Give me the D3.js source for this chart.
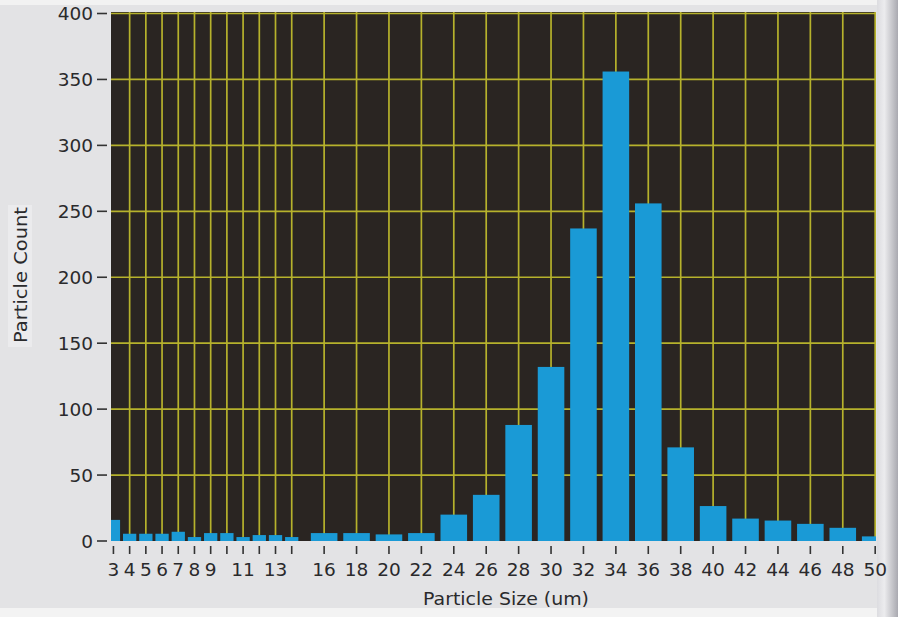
<!DOCTYPE html>
<html><head><meta charset="utf-8">
<script src="https://cdn.jsdelivr.net/npm/d3@7"></script>
<style>
html,body{margin:0;padding:0;background:#e4e4e6;}
svg{display:block;}
text{font-family:"DejaVu Sans",sans-serif;fill:#2a2a2c;}
</style></head>
<body>
<svg id="chart" width="898" height="617"></svg>
<script>
// Particle sizes (um) of each histogram bin and the count in that bin
const sizes  = [3,4,5,6,7,8,9,10,11,12,13,14,16,18,20,22,24,26,28,30,32,34,36,38,40,42,44,46,48,50];
const counts = [16,5.5,5.5,5.5,7,3,6,6,3,4.5,4.5,3,6,6,5,6,20,35,88,132,237,356,256,71,26.5,17,15.5,13,10,3.5];
// Tick values and which ones carry a label
const xTicks = [3,4,5,6,7,8,9,10,11,12,13,14,16,18,20,22,24,26,28,30,32,34,36,38,40,42,44,46,48,50];
const xTickLabels = ["3","4","5","6","7","8","9","","11","","13","","16","18","20","22","24","26","28","30","32","34","36","38","40","42","44","46","48","50"];
const yTicks = [0,50,100,150,200,250,300,350,400];

const svg = d3.select("#chart");
const L = 111, R = 876, T = 12, B = 541;

// background shading
const defs = svg.append("defs");
const g1 = defs.append("linearGradient").attr("id","rg").attr("x1",0).attr("x2",1).attr("y1",0).attr("y2",0);
g1.append("stop").attr("offset","0%").attr("stop-color","#dcdce0");
g1.append("stop").attr("offset","35%").attr("stop-color","#ececee");
g1.append("stop").attr("offset","100%").attr("stop-color","#a9a9b0");
svg.append("rect").attr("x",0).attr("y",0).attr("width",898).attr("height",617).attr("fill","#e3e3e5");
svg.append("rect").attr("x",0).attr("y",0).attr("width",898).attr("height",5).attr("fill","#f2f2f2");
svg.append("rect").attr("x",0).attr("y",608).attr("width",898).attr("height",9).attr("fill","#f3f3f3");
svg.append("rect").attr("x",R+1).attr("y",0).attr("width",898-R-1).attr("height",617).attr("fill","url(#rg)");
svg.append("rect").attr("x",8).attr("y",205).attr("width",24).attr("height",142).attr("fill","#ebebed");

const x = d3.scaleLinear().domain([2.85, 50.05]).range([L, R]);
const y = d3.scaleLinear().domain([0, 400]).range([B, 13.5]);

// plot area
svg.append("rect").attr("x",L).attr("y",T).attr("width",R-L).attr("height",B-T).attr("fill","#2a2522");

const clip = defs.append("clipPath").attr("id","pc");
clip.append("rect").attr("x",L).attr("y",T).attr("width",R-L).attr("height",B-T);

const plot = svg.append("g").attr("clip-path","url(#pc)");
const grid = "#b6b22c";
// vertical grid lines (none at first tick)
plot.selectAll("line.vg").data(xTicks.slice(1)).join("line")
  .attr("x1",d=>x(d)).attr("x2",d=>x(d)).attr("y1",T).attr("y2",B)
  .attr("stroke",grid).attr("stroke-width",1.7);
plot.selectAll("line.hg").data(yTicks.slice(1)).join("line")
  .attr("x1",L).attr("x2",R).attr("y1",d=>y(d)).attr("y2",d=>y(d))
  .attr("stroke",grid).attr("stroke-width",1.7);

// bars
const binW = s => s <= 14 ? 1 : 2;
const bars = sizes.map((s,i)=>({s, c:counts[i], w:binW(s)}));
plot.selectAll("rect.bar").data(bars).join("rect")
  .attr("x", d => x(d.s - 0.41*d.w))
  .attr("width", d => x(d.s + 0.41*d.w) - x(d.s - 0.41*d.w))
  .attr("y", d => y(d.c))
  .attr("height", d => y(0) - y(d.c))
  .attr("fill","#1a9ad6");

// Y axis
const yAxis = svg.append("g");
yAxis.selectAll("line").data(yTicks).join("line")
  .attr("x1",97).attr("x2",107).attr("y1",d=>y(d)).attr("y2",d=>y(d))
  .attr("stroke","#333").attr("stroke-width",1.6);
yAxis.selectAll("text").data(yTicks).join("text")
  .attr("x",93).attr("y",d=>y(d)).attr("dy","0.36em")
  .attr("text-anchor","end").attr("font-size",18.5).text(d=>d);

// X axis
const xAxis = svg.append("g");
xAxis.selectAll("line").data(xTicks).join("line")
  .attr("x1",d=>x(d)).attr("x2",d=>x(d)).attr("y1",546).attr("y2",554)
  .attr("stroke","#333").attr("stroke-width",1.6);
xAxis.selectAll("text").data(xTicks).join("text")
  .attr("x",d=>x(d)).attr("y",576)
  .attr("text-anchor","middle").attr("font-size",18.5).text((d,i)=>xTickLabels[i]);

// titles
svg.append("text").attr("x",506).attr("y",605).attr("text-anchor","middle")
  .attr("font-size",18.5).attr("textLength",166).attr("lengthAdjust","spacingAndGlyphs")
  .text("Particle Size (um)");
svg.append("text").attr("transform","translate(27,275) rotate(-90)").attr("text-anchor","middle")
  .attr("font-size",18.5).attr("textLength",136).attr("lengthAdjust","spacingAndGlyphs")
  .text("Particle Count");
</script>
</body></html>
